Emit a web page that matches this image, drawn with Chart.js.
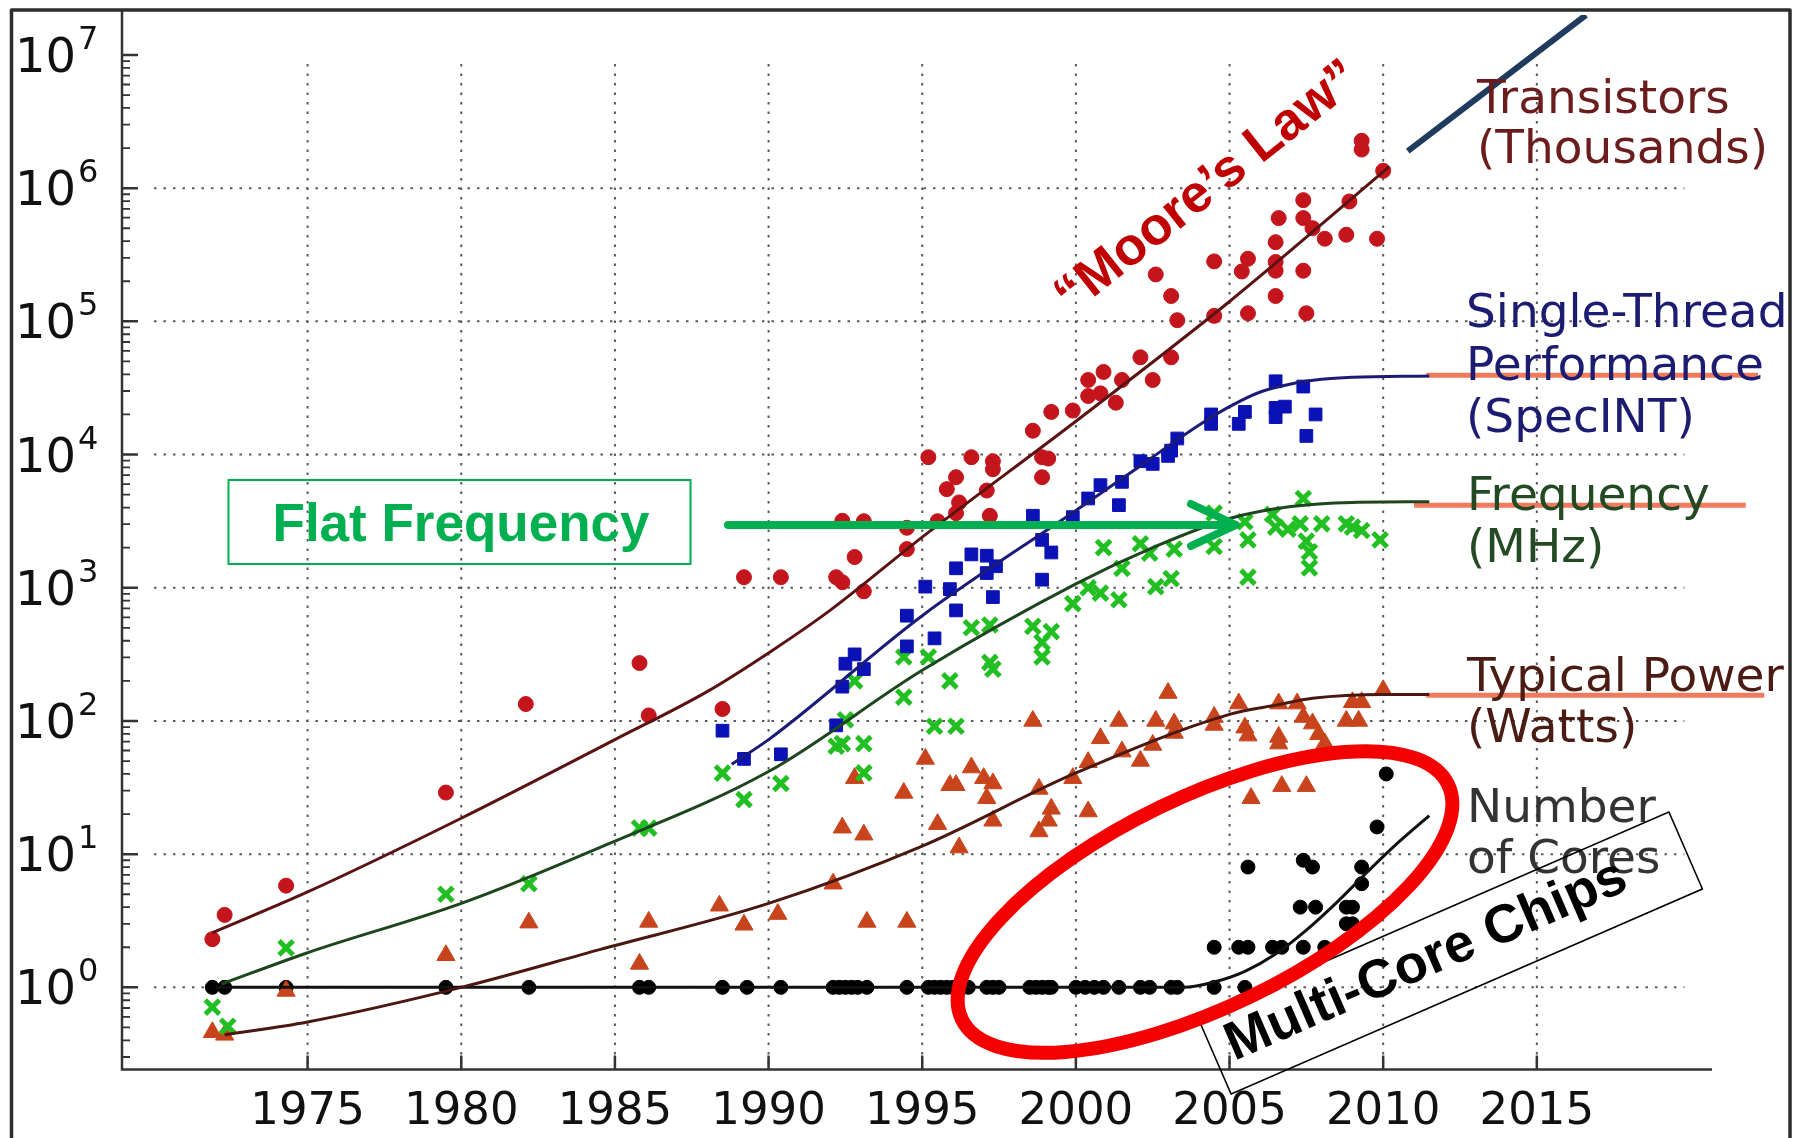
<!DOCTYPE html>
<html>
<head>
<meta charset="utf-8">
<script src="https://cdn.jsdelivr.net/npm/chart.js@4.4.1/dist/chart.umd.min.js"></script>
<style>
  html, body { margin: 0; padding: 0; background: #fff; }
  canvas { display: block; }
</style>
</head>
<body>
<canvas id="chart" width="1806" height="1138"></canvas>
<script>
// ===== DATOS =====
const xTicks = [1975, 1980, 1985, 1990, 1995, 2000, 2005, 2010, 2015];
const yExponents = [0, 1, 2, 3, 4, 5, 6, 7];

// Transistors (Thousands)
const transYears = [1971.9,1972.3,1974.3,1979.5,1982.1,1985.8,1986.1,1988.5,1989.2,1990.4,1992.2,1992.4,1992.4,1993.1,1992.8,1993.1,1994.5,1994.5,1995.2,1995.5,1995.8,1996.1,1996.2,1996.1,1996.6,1997.3,1997.3,1997.1,1997.2,1998.6,1998.9,1999.1,1998.9,1999.2,1999.9,2000.4,2000.9,2000.4,2000.8,2001.3,2001.5,2002.1,2002.5,2003.1,2003.3,2004.5,2002.6,2003.1,2004.5,2005.4,2005.6,2005.6,2006.5,2006.5,2006.5,2006.5,2007.4,2007.5,2006.6,2007.4,2007.4,2007.7,2008.1,2008.8,2008.9,2009.8,2009.3,2009.3,2010.0];
const transVals = [2.3,3.5,5.8,29,134,272,110,123,1200,1200,1200,1100,3180,3160,1700,940,1950,2820,9550,3160,5500,6760,4370,3630,9550,8910,7760,5370,3470,15100,9550,9330,6760,20900,21400,36300,41700,27500,28800,24500,36300,53700,36300,53700,102000,110000,225000,155000,282000,237000,295000,115000,393000,279000,240000,155000,240000,115000,596000,596000,813000,501000,417000,447000,794000,417000,2270000,1950000,1350000];

// Single-Thread Performance (SpecINT)
const specYears = [1988.5,1989.2,1990.4,1992.2,1992.4,1992.5,1992.8,1993.1,1994.5,1994.5,1995.1,1995.4,1995.9,1996.1,1996.1,1996.6,1997.1,1997.1,1997.3,1997.4,1998.6,1998.9,1999.2,1998.9,1999.9,2000.4,2000.8,2001.4,2001.5,2002.1,2002.5,2003.0,2003.1,2003.3,2004.4,2004.4,2005.3,2005.5,2006.5,2006.5,2006.5,2006.8,2007.4,2007.5,2007.8];
const specVals = [84.5,51.9,56.2,92.7,181,269,316,245,617,363,1020,417,977,1400,676,1780,1740,1290,851,1450,3470,2290,1840,1150,3390,4680,5890,4170,6240,8910,8510,9770,10700,13200,20000,17000,17000,20900,35500,22400,19100,22900,32400,13800,20000];

// Frequency (MHz)
const freqYears = [1971.9,1972.4,1974.3,1979.5,1982.2,1985.8,1986.1,1988.5,1989.2,1990.4,1992.2,1992.4,1992.5,1993.1,1993.1,1992.8,1994.4,1994.4,1995.2,1995.4,1996.1,1995.9,1996.6,1997.2,1997.2,1997.3,1998.6,1998.9,1999.2,1998.9,1999.9,2000.4,2000.8,2001.4,2000.9,2001.5,2002.1,2002.4,2002.6,2003.1,2003.2,2004.5,2004.5,2005.5,2005.6,2005.6,2006.4,2006.5,2006.9,2007.3,2007.4,2007.5,2007.6,2007.6,2008.0,2008.8,2009.0,2009.3,2009.9];
const freqVals = [0.71,0.51,1.98,5.0,6.0,15.7,15.7,40.6,25.7,33.9,64.6,67.6,102,67.6,40.7,200,302,151,302,91.2,91.2,200,501,525,275,245,513,389,468,302,759,1000,912,813,2000,1400,2140,1820,1020,1170,1950,3630,2040,3130,2290,1200,3550,2850,2750,3020,4680,2240,1860,1410,3020,3020,2850,2690,2290];

// Typical Power (Watts)
const powYears = [1971.9,1972.3,1974.3,1979.5,1982.2,1985.8,1986.1,1988.4,1989.2,1990.3,1992.1,1992.4,1993.1,1992.8,1994.4,1993.2,1994.5,1995.1,1995.5,1995.9,1996.1,1996.2,1996.6,1997.0,1997.3,1997.1,1997.3,1998.6,1998.8,1999.2,1999.1,1998.8,1999.9,2000.4,2000.4,2000.8,2001.4,2001.5,2002.1,2002.5,2002.6,2003.0,2003.2,2003.2,2004.5,2004.5,2005.3,2005.5,2005.6,2005.7,2006.6,2006.6,2006.6,2006.7,2007.2,2007.5,2007.4,2007.7,2007.9,2008.1,2008.8,2009.0,2009.2,2009.3,2010.0];
const powVals = [0.46,0.44,0.94,1.74,3.06,1.5,3.1,4.1,2.95,3.55,6.0,15.8,14.0,37.2,28.8,3.1,3.1,51.9,16.8,32.9,32.9,11.2,44.7,37.2,33.9,26.3,17.8,100,30.9,21.9,17.8,14.8,37.2,20.9,49,74.1,100,58.9,50.1,66.1,100,162,81.3,95.5,107,93.3,135,89.1,77.6,26.3,135,75.9,67.6,32.4,135,32.4,107,95.5,79.4,67.6,100,138,100,138,170];

// Number of Cores
const coreYears = [1971.9,1972.3,1974.3,1979.5,1982.2,1985.8,1986.1,1988.5,1989.3,1990.4,1992.1,1992.3,1992.5,1992.7,1992.9,1993.2,1994.5,1995.2,1995.4,1995.6,1995.8,1996.0,1996.5,1997.1,1997.3,1997.5,1998.5,1998.7,1998.9,1999.1,1999.2,2000.0,2000.3,2000.6,2000.9,2001.4,2002.1,2002.4,2003.1,2003.3,2004.5,2005.5,2004.5,2005.3,2005.6,2006.4,2006.7,2007.4,2008.1,2007.3,2007.8,2008.8,2009.0,2008.8,2009.0,2005.6,2007.4,2007.7,2009.3,2009.3,2009.8,2010.1];
const coreVals = [1,1,1,1,1,1,1,1,1,1,1,1,1,1,1,1,1,1,1,1,1,1,1,1,1,1,1,1,1,1,1,1,1,1,1,1,1,1,1,1,1,1,2,2,2,2,2,2,2,4,4,4,4,3,3,8,9,8,8,6,16,40];

// Trend lines
const mooreYears = [1971.9, 1975, 1980, 1985, 1988, 1990, 1992, 1995, 2000, 2005, 2010.2];
const mooreVals = [2.57, 5.2, 18.6, 72.4, 166, 324, 676, 2400, 17800, 141000, 1450000];
const mooreExtYears = [2010.8, 2016.6];
const mooreExtVals = [1900000, 19950000];
const specLineYears = [1988.8, 1990, 1995, 2000, 2002, 2004, 2005, 2006, 2007, 2008, 2009, 2011.5];
const specLineVals = [47.4, 72.4, 617, 3800, 7940, 16600, 22900, 29500, 33900, 36700, 38000, 38900];
const specFlatYears = [2011.4, 2022.2];
const specFlatVals = [39400, 39400];
const freqLineYears = [1972.2, 1975, 1980, 1984.5, 1990, 1995, 2000, 2002.5, 2005, 2007, 2009, 2011.5];
const freqLineVals = [1.06, 1.82, 4.27, 11.2, 41.7, 240, 1070, 2000, 3310, 4070, 4370, 4420];
const freqFlatYears = [2011.0, 2021.8];
const freqFlatVals = [4170, 4170];
const powLineYears = [1972.3, 1975, 1980, 1984.5, 1990, 1995, 2000, 2005, 2006.55, 2007.7, 2010, 2011.5];
const powLineVals = [0.44, 0.55, 1.0, 1.92, 4.27, 11.5, 40.7, 112, 132, 148, 158, 158];
const powFlatYears = [2011.4, 2022.4];
const powFlatVals = [156, 156];
const coreLineYears = [1972, 2003.5, 2004.5, 2005.5, 2006.5, 2007.5, 2008.5, 2009.5, 2010.5, 2011.5];
const coreLineVals = [1, 1, 1.096, 1.318, 1.778, 2.69, 4.37, 7.41, 12.3, 19.5];

// ===== HELPERS =====
const pts = (xs, ys) => xs.map((x, i) => ({ x: x, y: ys[i] }));
const ORANGE = '#f27a5c';

function trend(xs, ys, color, width, extra) {
  return Object.assign({
    data: pts(xs, ys),
    showLine: true,
    borderColor: color,
    borderWidth: width,
    pointRadius: 0,
    cubicInterpolationMode: 'monotone',
    order: 0
  }, extra || {});
}

function marks(xs, ys, style, radius, fill, bw) {
  return {
    data: pts(xs, ys),
    showLine: false,
    pointStyle: style,
    pointRadius: radius,
    backgroundColor: fill,
    borderColor: fill,
    borderWidth: bw,
    order: 1
  };
}

// ===== ANOTACIONES =====
const sideLabels = [
  { lines: ['Transistors', '(Thousands)'], color: '#6b1c1c', x: 1477, y: [113, 163] },
  { lines: ['Single-Thread', 'Performance', '(SpecINT)'], color: '#1c1c70', x: 1466, y: [327, 380, 432] },
  { lines: ['Frequency', '(MHz)'], color: '#234a23', x: 1467, y: [510, 562] },
  { lines: ['Typical Power', '(Watts)'], color: '#4a1c14', x: 1467, y: [691, 742] },
  { lines: ['Number', 'of Cores'], color: '#333333', x: 1467, y: [822, 873] }
];

const deco = {
  id: 'deco',
  beforeDatasetsDraw(chart) {
    const { ctx, chartArea: a } = chart;
    const xs = chart.scales.x, ys = chart.scales.y;
    ctx.save();

    // dotted grid
    ctx.strokeStyle = 'rgba(60,60,60,0.85)';
    ctx.lineWidth = 2;
    ctx.setLineDash([2.5, 7]);
    const gTop = ys.getPixelForValue(1e7) + 9;
    const gLeft = xs.getPixelForValue(1970), gRight = xs.getPixelForValue(2019.8);
    ctx.beginPath();
    xTicks.forEach(v => {
      const px = xs.getPixelForValue(v);
      ctx.moveTo(px, gTop); ctx.lineTo(px, a.bottom);
    });
    yExponents.slice(0, 7).forEach(e => {
      const py = ys.getPixelForValue(Math.pow(10, e));
      ctx.moveTo(gLeft, py); ctx.lineTo(gRight, py);
    });
    ctx.stroke();
    ctx.setLineDash([]);

    // spines
    ctx.strokeStyle = '#333';
    ctx.lineWidth = 2.5;
    ctx.beginPath();
    ctx.moveTo(a.left, 10); ctx.lineTo(a.left, a.bottom); ctx.lineTo(a.right, a.bottom);
    ctx.stroke();

    // ticks (inside)
    ctx.beginPath();
    yExponents.forEach(e => {
      const py = ys.getPixelForValue(Math.pow(10, e));
      ctx.moveTo(a.left, py); ctx.lineTo(a.left + 16, py);
    });
    xTicks.forEach(v => {
      const px = xs.getPixelForValue(v);
      ctx.moveTo(px, a.bottom); ctx.lineTo(px, a.bottom - 14);
    });
    ctx.stroke();
    ctx.lineWidth = 1.8;
    ctx.beginPath();
    for (let e = -1; e < 7; e++) {
      for (let m = 2; m < 10; m++) {
        const v = m * Math.pow(10, e);
        if (v < ys.min) continue;
        const py = ys.getPixelForValue(v);
        ctx.moveTo(a.left, py); ctx.lineTo(a.left + 8, py);
      }
    }
    ctx.stroke();
    ctx.restore();
  },
  afterDatasetsDraw(chart) {
    const { ctx } = chart;
    const ys = chart.scales.y;
    ctx.save();

    // y labels 10^n
    ctx.fillStyle = '#111';
    ctx.textBaseline = 'alphabetic';
    yExponents.forEach(e => {
      const py = ys.getPixelForValue(Math.pow(10, e));
      ctx.font = '48px "DejaVu Sans"';
      ctx.textAlign = 'right';
      ctx.fillText('10', 76, py + 17);
      ctx.font = '32px "DejaVu Sans"';
      ctx.textAlign = 'left';
      ctx.fillText(String(e), 78, py - 6);
    });

    // side labels
    ctx.font = '47px "DejaVu Sans"';
    ctx.textAlign = 'left';
    sideLabels.forEach(l => {
      ctx.fillStyle = l.color;
      l.lines.forEach((t, i) => ctx.fillText(t, l.x, l.y[i]));
    });

    // Moore's Law
    ctx.save();
    ctx.translate(1208, 188);
    ctx.rotate(-38.5 * Math.PI / 180);
    ctx.font = 'bold 53px "Liberation Sans", Arial, sans-serif';
    ctx.fillStyle = '#c00000';
    ctx.textAlign = 'center';
    ctx.textBaseline = 'middle';
    ctx.fillText('\u201CMoore\u2019s Law\u201D', 0, 0);
    ctx.restore();

    // Flat Frequency box + arrow
    ctx.strokeStyle = '#00b050';
    ctx.lineWidth = 2;
    ctx.strokeRect(228.5, 480, 462, 84);
    ctx.fillStyle = '#00b050';
    ctx.font = 'bold 53px "Liberation Sans", Arial, sans-serif';
    ctx.textAlign = 'center';
    ctx.textBaseline = 'alphabetic';
    ctx.fillText('Flat Frequency', 461, 541);
    ctx.lineWidth = 8;
    ctx.lineCap = 'round';
    ctx.lineJoin = 'round';
    ctx.beginPath();
    ctx.moveTo(728, 525); ctx.lineTo(1232, 525);
    ctx.moveTo(1191, 504); ctx.lineTo(1236, 525); ctx.lineTo(1191, 546);
    ctx.stroke();
    ctx.lineCap = 'butt';

    // Multi-Core box
    ctx.save();
    ctx.translate(1450, 953);
    ctx.rotate(-23.5 * Math.PI / 180);
    ctx.strokeStyle = '#000';
    ctx.lineWidth = 1.6;
    ctx.strokeRect(-257, -42, 514, 84);
    ctx.fillStyle = '#000';
    ctx.font = 'bold 54px "Liberation Sans", Arial, sans-serif';
    ctx.textAlign = 'center';
    ctx.textBaseline = 'middle';
    ctx.fillText('Multi-Core Chips', -25, -2);
    ctx.restore();

    // red ellipse
    ctx.strokeStyle = '#f50000';
    ctx.lineWidth = 14;
    ctx.beginPath();
    ctx.ellipse(1205, 902, 270, 105, -25.8 * Math.PI / 180, 0, 2 * Math.PI);
    ctx.stroke();

    // outer frame
    ctx.strokeStyle = '#2e2e2e';
    ctx.lineWidth = 3.5;
    ctx.strokeRect(11.5, 10, 1778.5, 1200);
    ctx.restore();
  }
};

// ===== GRAFICO =====
const ctx = document.getElementById('chart').getContext('2d');
new Chart(ctx, {
  type: 'scatter',
  data: {
    datasets: [
      trend(mooreYears, mooreVals, '#5a1212', 3),
      trend(mooreExtYears, mooreExtVals, '#1f3b5e', 6),
      trend(specLineYears, specLineVals, '#1c1c78', 3),
      trend(specFlatYears, specFlatVals, ORANGE, 5, { clip: false }),
      trend(freqLineYears, freqLineVals, '#1e461e', 3),
      trend(freqFlatYears, freqFlatVals, ORANGE, 5, { clip: false }),
      trend(powLineYears, powLineVals, '#4a1810', 3),
      trend(powFlatYears, powFlatVals, ORANGE, 5, { clip: false }),
      trend(coreLineYears, coreLineVals, '#111111', 3),
      marks(transYears, transVals, 'circle', 7.5, '#c4141c', 1),
      marks(specYears, specVals, 'rect', 9, '#0b12b5', 1),
      marks(freqYears, freqVals, 'crossRot', 10, '#22bf22', 5),
      marks(powYears, powVals, 'triangle', 10.5, '#c8441c', 1),
      marks(coreYears, coreVals, 'circle', 7, '#000000', 1)
    ]
  },
  options: {
    responsive: false,
    animation: false,
    devicePixelRatio: 1,
    layout: { padding: { left: 0, top: 10, right: 94, bottom: 0 } },
    plugins: { legend: { display: false }, tooltip: { enabled: false } },
    scales: {
      x: {
        type: 'linear',
        min: 1968.96,
        max: 2020.7,
        grid: { display: false },
        border: { display: false },
        afterBuildTicks: s => { s.ticks = xTicks.map(v => ({ value: v })); },
        afterFit: s => { s.height = 68.5; },
        ticks: {
          autoSkip: false,
          maxRotation: 0,
          padding: 8,
          color: '#111',
          font: { family: 'DejaVu Sans', size: 45 },
          callback: v => String(v)
        }
      },
      y: {
        type: 'logarithmic',
        min: 0.2417,
        max: 1.995e7,
        grid: { display: false },
        border: { display: false },
        ticks: { display: false },
        afterFit: s => { s.width = 122; }
      }
    }
  },
  plugins: [deco]
});
</script>
</body>
</html>
